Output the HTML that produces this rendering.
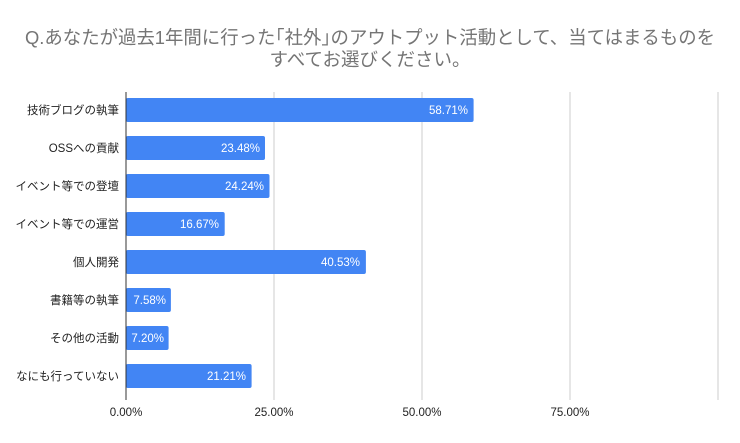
<!DOCTYPE html>
<html><head><meta charset="utf-8"><style>
body{margin:0;background:#fff;font-family:"Liberation Sans","Noto Sans CJK JP",sans-serif}
</style></head><body>
<svg width="740" height="443" xmlns="http://www.w3.org/2000/svg" style="display:block;font-family:'Liberation Sans','Noto Sans CJK JP',sans-serif">
<rect width="740" height="443" fill="#fff"/>
<text x="370" y="44" text-anchor="middle" font-size="18.5" fill="#757575" textLength="690" lengthAdjust="spacingAndGlyphs">Q.あなたが過去1年間に行った｢社外｣のアウトプット活動として、当てはまるものを</text>
<text x="370" y="66" text-anchor="middle" font-size="18.5" fill="#757575">すべてお選びください。</text>
<g stroke="#cccccc" stroke-width="1">
<line x1="274" y1="92" x2="274" y2="400"/>
<line x1="422" y1="92" x2="422" y2="400"/>
<line x1="570" y1="92" x2="570" y2="400"/>
<line x1="718" y1="92" x2="718" y2="400"/>
</g>
<g fill="#4285f4">
<rect x="126" y="98" width="347.6" height="24" rx="2"/>
<rect x="126" y="136" width="139" height="24" rx="2"/>
<rect x="126" y="174" width="143.5" height="24" rx="2"/>
<rect x="126" y="212" width="98.7" height="24" rx="2"/>
<rect x="126" y="250" width="239.9" height="24" rx="2"/>
<rect x="126" y="288" width="44.9" height="24" rx="2"/>
<rect x="126" y="326" width="42.6" height="24" rx="2"/>
<rect x="126" y="364" width="125.6" height="24" rx="2"/>
</g>
<line x1="126" y1="92" x2="126" y2="400" stroke="#333" stroke-width="1"/>
<g font-size="11.5" fill="#fff" text-anchor="end">
<text x="468" y="114">58.71%</text>
<text x="260" y="152">23.48%</text>
<text x="264" y="190">24.24%</text>
<text x="219" y="228">16.67%</text>
<text x="360" y="266">40.53%</text>
<text x="166" y="304">7.58%</text>
<text x="164" y="342">7.20%</text>
<text x="246" y="380">21.21%</text>
</g>
<g font-size="11.5" fill="#222" text-anchor="end">
<text x="119" y="114">技術ブログの執筆</text>
<text x="119" y="152">OSSへの貢献</text>
<text x="119" y="190">イベント等での登壇</text>
<text x="119" y="228">イベント等での運営</text>
<text x="119" y="266">個人開発</text>
<text x="119" y="304">書籍等の執筆</text>
<text x="119" y="342">その他の活動</text>
<text x="119" y="380">なにも行っていない</text>
</g>
<g font-size="11.5" fill="#222" text-anchor="middle">
<text x="126" y="416">0.00%</text>
<text x="274" y="416">25.00%</text>
<text x="422" y="416">50.00%</text>
<text x="570" y="416">75.00%</text>
</g>
</svg>
</body></html>
